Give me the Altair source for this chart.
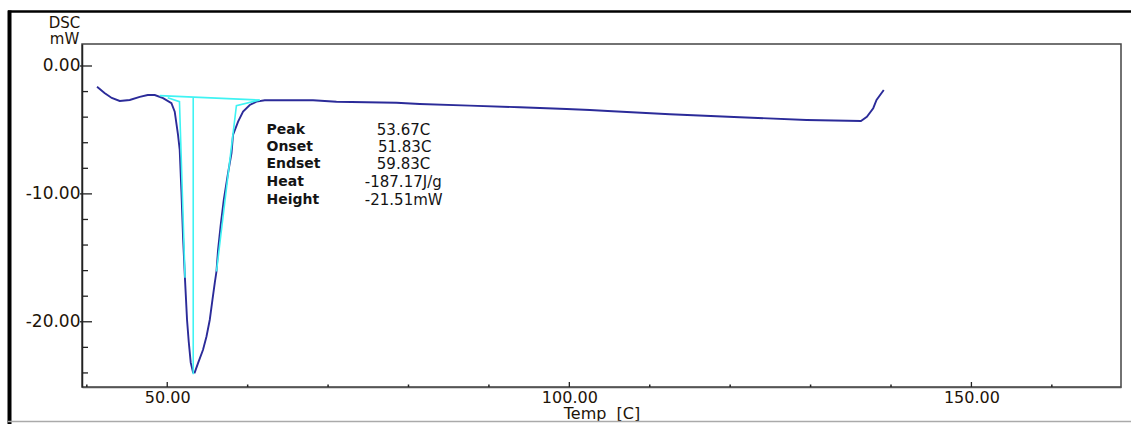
import altair as alt
import pandas as pd

# DSC curve (Temp in C, signal in mW)
temp = [41.27, 42.2, 43.1, 44.09, 45.34, 46.58, 47.57, 48.45, 49.48, 50.52, 50.93,
        51.34, 51.55, 51.77, 51.97, 52.18, 52.46, 52.67, 52.92, 53.21, 53.42, 53.83,
        54.45, 54.88, 55.29, 55.62, 55.91, 56.12, 56.32, 56.65, 57.03, 57.56, 57.99,
        58.18, 58.81, 59.43, 60.26, 61.09, 62.13, 68.13, 71.04, 78.51, 81.4, 87.62,
        93.84, 99.65, 102.55, 104.79, 112.5, 121.2, 129.5, 136.26, 137.0, 137.79,
        138.2, 139.1]
dsc = [-1.62, -2.11, -2.5, -2.73, -2.66, -2.42, -2.27, -2.27, -2.52, -2.91, -3.57,
       -5.39, -6.56, -9.92, -13.44, -16.33, -19.84, -21.54, -23.2, -23.95, -23.96, -23.23,
       -22.19, -21.15, -19.84, -18.28, -16.95, -16.07, -14.38, -12.42, -10.47, -8.38, -6.82,
       -5.39, -4.35, -3.57, -3.05, -2.79, -2.68, -2.68, -2.79, -2.87, -2.97, -3.1,
       -3.23, -3.36, -3.44, -3.52, -3.77, -4.01, -4.22, -4.3, -3.98, -3.3,
       -2.66, -1.88]

# Analysis construction lines (cyan)
cyan_seg = ["base", "base", "onset", "onset", "onset", "peak", "peak", "endset", "endset", "endset"]
cyan_t = [49.07, 61.5, 50.06, 51.52, 52.21, 53.23, 53.23, 61.5, 58.6, 56.12]
cyan_v = [-2.32, -2.66, -2.48, -2.79, -16.56, -2.5, -24.1, -2.66, -3.1, -16.07]

# Result table
res_labels = ["Peak", "Onset", "Endset", "Heat", "Height"]
res_values = ["53.67C", "51.83C", "59.83C", "-187.17J/g", "-21.51mW"]
res_row_v = [-5.0, -6.33, -7.66, -9.06, -10.47]
res_label_t = [62.34] * 5
res_value_t = [76.06, 76.2, 76.06, 74.57, 74.57]

# Axis ticks
x_major = [50, 100, 150]
x_minor = [40, 60, 70, 80, 90, 110, 120, 130, 140, 160]
y_major = [0, -10, -20]
y_minor = [-24, -22, -18, -16, -14, -12, -8, -6, -4, -2]

X_DOM = [39.4, 168.6]
Y_DOM = [-25.1, 1.72]

FONT = "DejaVu Sans"
LBL = "#1e1408"
LINE = "#2b2b99"
CYAN = "#3ff3f3"

curve_df = pd.DataFrame({"t": temp, "v": dsc, "i": range(len(temp))})
cyan_df = pd.DataFrame({"seg": cyan_seg, "t": cyan_t, "v": cyan_v,
                        "i": range(len(cyan_t))})
res_df = pd.DataFrame({"lab": res_labels, "val": res_values, "v": res_row_v,
                       "tl": res_label_t, "tv": res_value_t})

fmt = "datum.value < 0 ? '-' + format(-datum.value, '.2f') : format(datum.value, '.2f')"

xs = alt.Scale(domain=X_DOM, nice=False, zero=False)
ys = alt.Scale(domain=Y_DOM, nice=False, zero=False)

curve = alt.Chart(curve_df).mark_line(color=LINE, strokeWidth=1.9).encode(
    x=alt.X("t:Q", scale=xs, axis=alt.Axis(
        values=x_major, labelExpr=fmt, ticks=False, grid=False,
        domainColor="#555", domainWidth=1.5,
        labelFont=FONT, labelFontSize=16, labelColor=LBL, labelPadding=2,
        title="Temp\u00a0 [C]", titleFont=FONT, titleFontSize=16,
        titleFontWeight="normal", titleColor=LBL, titleY=31,
        titleBaseline="alphabetic")),
    y=alt.Y("v:Q", scale=ys, axis=alt.Axis(
        values=y_major, labelExpr=fmt, ticks=False, grid=False,
        domainColor="#222", domainWidth=1.5,
        labelFont=FONT, labelFontSize=17, labelColor=LBL, labelPadding=2,
        title=["DSC", "mW"], titleAngle=0, titleAlign="center",
        titleX=-18, titleY=-17, titleBaseline="alphabetic", titleLineHeight=16,
        titleFont=FONT, titleFontSize=15, titleFontWeight="normal",
        titleColor=LBL)),
    order="i:Q",
)

cyan = alt.Chart(cyan_df).mark_line(color=CYAN, strokeWidth=1.6).encode(
    x=alt.X("t:Q"),
    y=alt.Y("v:Q"),
    detail="seg:N",
    order="i:Q",
)

labels = alt.Chart(res_df).mark_text(
    align="left", baseline="middle", font=FONT, fontSize=14, fontWeight="bold",
    color="#141414"
).encode(x=alt.X("tl:Q"), y=alt.Y("v:Q"), text="lab:N")

values = alt.Chart(res_df).mark_text(
    align="left", baseline="middle", font=FONT, fontSize=15, color="#141414"
).encode(x=alt.X("tv:Q"), y=alt.Y("v:Q"), text="val:N")

ymaj = alt.Chart(pd.DataFrame({"v": y_major})).mark_rule(color="#222", strokeWidth=1.3).encode(
    y=alt.Y("v:Q"), x=alt.value(-2), x2=alt.value(10))
ymin = alt.Chart(pd.DataFrame({"v": y_minor})).mark_rule(color="#222", strokeWidth=1.3).encode(
    y=alt.Y("v:Q"), x=alt.value(0), x2=alt.value(6))
xmaj = alt.Chart(pd.DataFrame({"t": x_major})).mark_rule(color="#222", strokeWidth=1.3).encode(
    x=alt.X("t:Q"), y=alt.value(338), y2=alt.value(343))
xmin = alt.Chart(pd.DataFrame({"t": x_minor})).mark_rule(color="#222", strokeWidth=1.5).encode(
    x=alt.X("t:Q"), y=alt.value(340.5), y2=alt.value(343))

one = pd.DataFrame({"a": [0]})
frame_top = alt.Chart(one).mark_rule(color="#000", strokeWidth=2.5).encode(
    x=alt.value(-74), x2=alt.value(1049), y=alt.value(-32.5))
frame_left = alt.Chart(one).mark_rule(color="#000", strokeWidth=4).encode(
    x=alt.value(-72.5), y=alt.value(-33.5), y2=alt.value(380))
frame_bottom = alt.Chart(one).mark_rule(color="#aaa", strokeWidth=1.5).encode(
    x=alt.value(-74), x2=alt.value(1049), y=alt.value(377.5))

chart = alt.layer(
    curve, cyan, labels, values,
    ymaj, ymin, xmaj, xmin,
    frame_top, frame_left, frame_bottom,
).properties(
    width=1039, height=343,
    padding={"left": 82, "top": 44, "right": 10, "bottom": 37},
    autosize=alt.AutoSizeParams(type="none"),
    background="white",
).configure_view(stroke="#444", strokeWidth=1.5)

chart.save("out.html", embed_options={"renderer": "svg", "actions": False})
